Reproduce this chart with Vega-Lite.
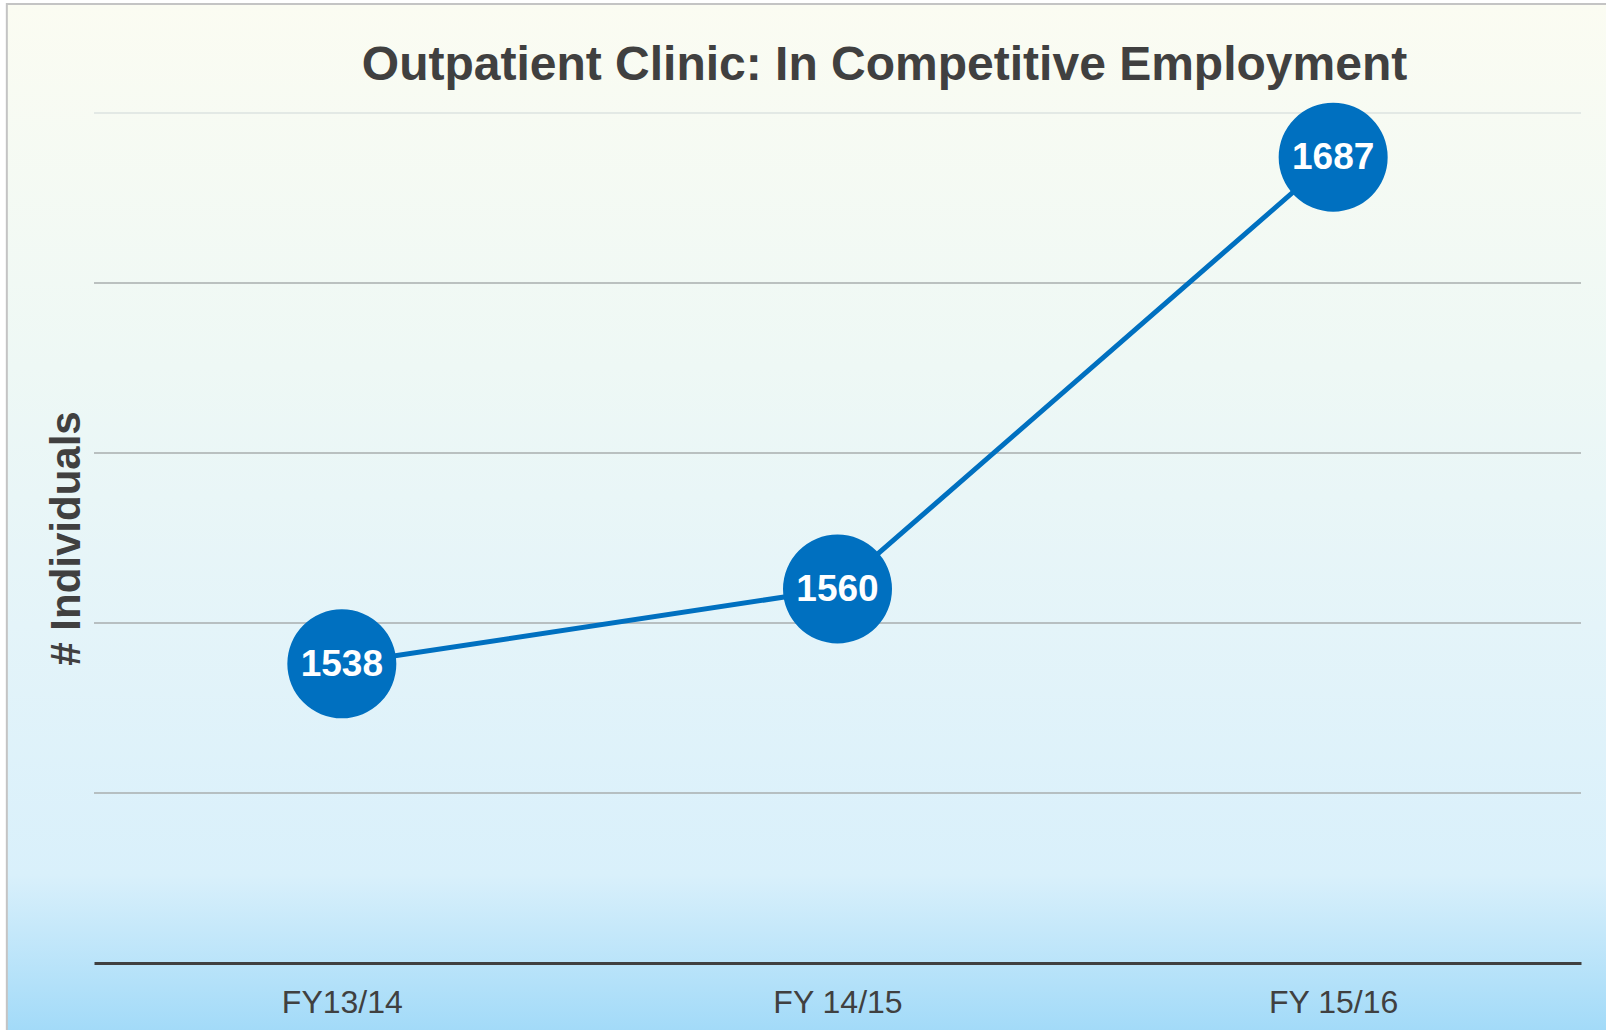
{
  "$schema": "https://vega.github.io/schema/vega-lite/v6.json",
  "autosize": {"type": "none"},
  "padding": {"left": 94, "top": 113, "right": 25, "bottom": 67},
  "width": 1487,
  "height": 850,
  "background": "#ffffff",
  "config": {
    "font": "Liberation Sans",
    "view": {"stroke": null},
    "axis": {"zindex": 1}
  },
  "title": {
    "text": "Outpatient Clinic: In Competitive Employment",
    "fontSize": 48,
    "fontWeight": "bold",
    "color": "#404040",
    "font": "Liberation Sans",
    "frame": "group",
    "anchor": "middle",
    "baseline": "alphabetic",
    "offset": -125,
    "dx": 47
  },
  "datasets": {
    "main": [
      {"year": "FY13/14", "individuals": 1538},
      {"year": "FY 14/15", "individuals": 1560},
      {"year": "FY 15/16", "individuals": 1687}
    ],
    "grid": [
      {"level": 1500},
      {"level": 1550},
      {"level": 1600},
      {"level": 1650},
      {"level": 1700}
    ]
  },
  "layer": [
    {
      "data": {"values": [{"panel": "background"}]},
      "mark": {
        "type": "rect",
        "xOffset": -335,
        "x2Offset": 313,
        "yOffset": -109,
        "y2Offset": 77,
        "fill": {
          "gradient": "linear",
          "x1": 0, "y1": 0, "x2": 0, "y2": 1,
          "stops": [
            {"offset": 0, "color": "#fbfcf2"},
            {"offset": 0.35, "color": "#eef8f5"},
            {"offset": 0.6, "color": "#e4f4f9"},
            {"offset": 0.84, "color": "#d9f0fb"},
            {"offset": 1, "color": "#9fd9f8"}
          ]
        },
        "stroke": "#c4c4c4",
        "strokeWidth": 2
      },
      "encoding": {
        "x": {"datum": "FY13/14", "type": "nominal", "scale": {"type": "point", "padding": 0.5, "domain": ["FY13/14", "FY 14/15", "FY 15/16"]}, "axis": {"zindex": 2, "title": null, "labelAngle": 0, "labelAlign": "center", "labelBaseline": "top", "labelFontSize": 32, "labelColor": "#404040", "labelFont": "Liberation Sans", "ticks": false, "tickSize": 0, "labelPadding": 24, "domain": true, "domainColor": "#404040", "domainWidth": 3, "grid": false}},
        "x2": {"datum": "FY 15/16"},
        "y": {"datum": 1700, "type": "quantitative"},
        "y2": {"datum": 1450}
      }
    },
    {
      "data": {"name": "grid"},
      "mark": {"type": "rule", "strokeWidth": 1.5},
      "encoding": {
        "y": {"field": "level", "type": "quantitative", "scale": {"domain": [1450, 1700], "nice": false, "zero": false}, "axis": {"zindex": 2, "title": "# Individuals", "labels": false, "ticks": false, "grid": false, "domain": true, "domainColor": "transparent", "titleFontSize": 42, "titleFontWeight": "bold", "titleColor": "#404040", "titleFont": "Liberation Sans", "titlePadding": 6}},
        "color": {"condition": {"test": "datum.level === 1700", "value": "#dde3e0"}, "value": "#a9aeae"}
      }
    },
    {
      "data": {"name": "main"},
      "mark": {"type": "line", "color": "#0070C0", "strokeWidth": 5},
      "encoding": {
        "x": {"field": "year", "type": "nominal", "sort": null, "axis": {"zindex": 2, "title": null, "labelAngle": 0, "labelAlign": "center", "labelBaseline": "top", "labelFontSize": 32, "labelColor": "#404040", "labelFont": "Liberation Sans", "ticks": false, "tickSize": 0, "labelPadding": 24, "domain": true, "domainColor": "#404040", "domainWidth": 3, "grid": false}},
        "y": {"field": "individuals", "type": "quantitative"}
      }
    },
    {
      "data": {"name": "main"},
      "mark": {"type": "point", "filled": true, "opacity": 1, "color": "#0070C0", "size": 11881},
      "encoding": {
        "x": {"field": "year", "type": "nominal", "sort": null},
        "y": {"field": "individuals", "type": "quantitative"}
      }
    },
    {
      "data": {"name": "main"},
      "mark": {"type": "text", "color": "#ffffff", "fontSize": 37, "fontWeight": "bold", "font": "Liberation Sans", "baseline": "middle", "align": "center", "dy": 1},
      "encoding": {
        "x": {"field": "year", "type": "nominal", "sort": null},
        "y": {"field": "individuals", "type": "quantitative"},
        "text": {"field": "individuals", "type": "quantitative", "format": "d"}
      }
    }
  ]
}
